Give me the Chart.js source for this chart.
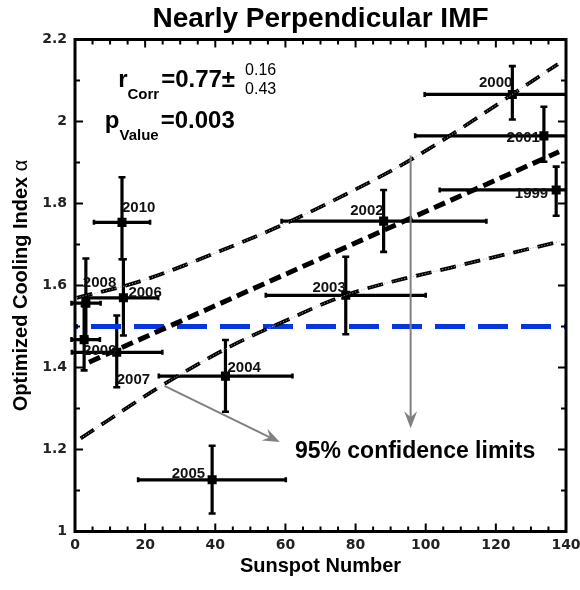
<!DOCTYPE html>
<html><head><meta charset="utf-8">
<script src="https://cdn.jsdelivr.net/npm/chart.js@4.4.1/dist/chart.umd.min.js"></script>
<style>html,body{margin:0;padding:0;background:#fff;}canvas{display:block;}</style>
</head><body>
<canvas id="c" width="580" height="590"></canvas>
<script>
// ---- data ----
const years      = ['2000','2001','1999','2002','2003','2004','2005','2006','2007','2008','2009','2010'];
const sunspot    = [124.7, 133.7, 137.2, 88.0, 77.2, 42.9, 39.1, 13.8, 11.9, 3.1, 2.6, 13.4];
const alpha      = [2.066, 1.965, 1.833, 1.757, 1.576, 1.379, 1.126, 1.570, 1.437, 1.557, 1.468, 1.754];
const sunspotLow = [99.7, 97.0, 104.0, 58.9, 54.4, 23.9, 18.0, 2.3, -0.9, -1.0, -1.0, 5.4];
const sunspotHigh= [150, 170, 170, 117.3, 100.0, 62.0, 60.1, 23.7, 24.9, 7.3, 7.1, 21.4];
const alphaLow   = [2.005, 1.902, 1.770, 1.682, 1.481, 1.292, 1.044, 1.478, 1.352, 1.470, 1.393, 1.664];
const alphaHigh  = [2.135, 2.036, 1.890, 1.833, 1.670, 1.467, 1.209, 1.664, 1.527, 1.666, 1.550, 1.864];
const fitX   = [4, 138];
const fitY   = [1.413, 1.926];
const upperX = [0.5, 18.5, 46, 58.4, 75.5, 96.4, 137.7];
const upperY = [1.570, 1.610, 1.700, 1.745, 1.815, 1.910, 2.140];
const lowerX = [1.6, 24.2, 44.2, 58.4, 77.4, 107.8, 138.2];
const lowerY = [1.227, 1.353, 1.451, 1.508, 1.577, 1.645, 1.707];
const thresholdX = [0, 140];
const thresholdY = [1.5, 1.5];
const xTickValues = [0, 20, 40, 60, 80, 100, 120, 140];
const yTickValues = [1, 1.2, 1.4, 1.6, 1.8, 2, 2.2];
const rCorr = '0.77', rPlus = '0.16', rMinus = '0.43', pValue = '0.003';

// ---- styling (label placement: align, dx, dy in px) ----
const labelPlace = {
  '2000':['right',0,-7], '2001':['right',-4,6], '1999':['right',-8,8],
  '2002':['right',0,-6], '2003':['right',0,-3], '2004':['left',2,-4],
  '2005':['right',-7,-2], '2006':['left',5,-1], '2007':['left',0,32],
  '2008':['left',-3,-16], '2009':['left',-1,15], '2010':['left',0,-10]
};
const pts = (xs, ys) => xs.map((x, i) => ({x, y: ys[i]}));
const BOLD = 'Liberation Sans, Arial, sans-serif';

const errorBars = {
  id: 'errorBars',
  beforeDatasetsDraw(chart) {
    const {ctx, chartArea: a, scales: {x, y}} = chart;
    ctx.save();
    ctx.beginPath(); ctx.rect(a.left - 5, a.top - 5, a.right - a.left + 5, a.bottom - a.top + 10); ctx.clip();
    ctx.strokeStyle = '#000'; ctx.lineWidth = 3.2; ctx.lineCap = 'butt';
    for (let i = 0; i < years.length; i++) {
      const px = x.getPixelForValue(sunspot[i]), py = y.getPixelForValue(alpha[i]);
      const xl = x.getPixelForValue(sunspotLow[i]), xh = x.getPixelForValue(sunspotHigh[i]);
      const yl = y.getPixelForValue(alphaLow[i]), yh = y.getPixelForValue(alphaHigh[i]);
      ctx.lineWidth = 3.2;
      ctx.beginPath();
      ctx.moveTo(xl, py); ctx.lineTo(xh, py);
      ctx.moveTo(px, yl); ctx.lineTo(px, yh);
      ctx.stroke();
      ctx.lineWidth = 2.6;
      ctx.beginPath();
      ctx.moveTo(px - 3.5, yl); ctx.lineTo(px + 3.5, yl);
      ctx.moveTo(px - 3.5, yh); ctx.lineTo(px + 3.5, yh);
      ctx.moveTo(xl, py - 2.5); ctx.lineTo(xl, py + 2.5);
      ctx.moveTo(xh, py - 2.5); ctx.lineTo(xh, py + 2.5);
      ctx.stroke();
    }
    ctx.restore();
  }
};

function arrow(ctx, x1, y1, x2, y2) {
  const ang = Math.atan2(y2 - y1, x2 - x1), c = Math.cos(ang), s = Math.sin(ang);
  const L = 17, W = 6.5, N = 11;
  const nx = x2 - N * c, ny = y2 - N * s;
  ctx.beginPath(); ctx.moveTo(x1, y1); ctx.lineTo(nx, ny); ctx.stroke();
  ctx.beginPath(); ctx.moveTo(x2, y2);
  ctx.lineTo(x2 - L * c + W * s, y2 - L * s - W * c);
  ctx.lineTo(nx, ny);
  ctx.lineTo(x2 - L * c - W * s, y2 - L * s + W * c);
  ctx.closePath(); ctx.fill();
}

const decorations = {
  id: 'decorations',
  afterDraw(chart) {
    const {ctx, chartArea: a, scales: {x, y}} = chart;
    ctx.save();
    // frame
    ctx.strokeStyle = '#000'; ctx.lineWidth = 3;
    ctx.strokeRect(a.left, a.top, a.right - a.left, a.bottom - a.top);
    // inward ticks
    ctx.lineWidth = 2;
    ctx.beginPath();
    for (let v = 0; v <= 140; v += 5) {
      const p = x.getPixelForValue(v), len = v % 20 === 0 ? 8 : 5;
      ctx.moveTo(p, a.bottom); ctx.lineTo(p, a.bottom - len);
      ctx.moveTo(p, a.top); ctx.lineTo(p, a.top + len);
    }
    for (let k = 0; k <= 12; k++) {
      const p = y.getPixelForValue(1 + k * 0.1), len = k % 2 === 0 ? 8 : 5;
      ctx.moveTo(a.left, p); ctx.lineTo(a.left + len, p);
      ctx.moveTo(a.right, p); ctx.lineTo(a.right - len, p);
    }
    ctx.stroke();

    // year labels
    ctx.fillStyle = '#111'; ctx.font = 'bold 15px ' + BOLD; ctx.textBaseline = 'alphabetic';
    years.forEach((yr, i) => {
      const [al, dx, dy] = labelPlace[yr];
      ctx.textAlign = al;
      ctx.fillText(yr, x.getPixelForValue(sunspot[i]) + dx, y.getPixelForValue(alpha[i]) + dy);
    });

    // arrows
    ctx.strokeStyle = '#808080'; ctx.fillStyle = '#808080'; ctx.lineWidth = 2;
    arrow(ctx, x.getPixelForValue(25.5), y.getPixelForValue(1.355), x.getPixelForValue(58.4), y.getPixelForValue(1.218));
    arrow(ctx, x.getPixelForValue(95.7), y.getPixelForValue(1.917), x.getPixelForValue(95.7), y.getPixelForValue(1.252));

    ctx.fillStyle = '#000'; ctx.textAlign = 'left';
    ctx.font = 'bold 23px ' + BOLD;
    ctx.fillText('95% confidence limits', x.getPixelForValue(62.7), y.getPixelForValue(1.179));

    // statistics annotation
    let cx = x.getPixelForValue(12.3); const b1 = y.getPixelForValue(2.084);
    ctx.font = 'bold 24px ' + BOLD; ctx.fillText('r', cx, b1); cx += ctx.measureText('r').width;
    ctx.font = 'bold 15px ' + BOLD; ctx.fillText('Corr', cx, b1 + 12); cx += ctx.measureText('Corr').width + 2;
    ctx.font = 'bold 24px ' + BOLD; const t1 = '=' + rCorr + '\u00b1'; ctx.fillText(t1, cx, b1); cx += ctx.measureText(t1).width + 10;
    ctx.font = '16px ' + BOLD; ctx.fillText(rPlus, cx, b1 - 12); ctx.fillText(rMinus, cx, b1 + 7);
    cx = x.getPixelForValue(8.5); const b2 = y.getPixelForValue(1.984);
    ctx.font = 'bold 24px ' + BOLD; ctx.fillText('p', cx, b2); cx += ctx.measureText('p').width;
    ctx.font = 'bold 15px ' + BOLD; ctx.fillText('Value', cx, b2 + 12); cx += ctx.measureText('Value').width + 2;
    ctx.font = 'bold 24px ' + BOLD; ctx.fillText('=' + pValue, cx, b2);

    // y axis title
    ctx.save();
    ctx.translate(27, (a.top + a.bottom) / 2); ctx.rotate(-Math.PI / 2);
    const main = 'Optimized Cooling Index ';
    ctx.font = '20px ' + BOLD; const wA = ctx.measureText('\u03b1').width;
    ctx.font = 'bold 20px ' + BOLD; const wM = ctx.measureText(main).width;
    const start = -(wM + wA) / 2;
    ctx.textAlign = 'left'; ctx.fillText(main, start, 0);
    ctx.font = '20px ' + BOLD; ctx.fillText('\u03b1', start + wM, 0);
    ctx.restore();
    ctx.restore();
  }
};

const longDash = {borderColor: '#000', borderWidth: 3.8, borderDash: [16, 9], pointRadius: 0, showLine: true, fill: false, cubicInterpolationMode: 'monotone'};
const thinLink = {borderColor: '#b0b0b0', borderWidth: 1, borderDash: [1, 2], pointRadius: 0, showLine: true, fill: false, cubicInterpolationMode: 'monotone'};

new Chart(document.getElementById('c'), {
  type: 'scatter',
  data: {
    datasets: [
      Object.assign({label: 'upper link', data: pts(upperX, upperY)}, thinLink),
      Object.assign({label: 'lower link', data: pts(lowerX, lowerY)}, thinLink),
      Object.assign({label: 'upper 95%', data: pts(upperX, upperY)}, longDash),
      Object.assign({label: 'lower 95%', data: pts(lowerX, lowerY)}, longDash),
      {label: 'fit', data: pts(fitX, fitY), showLine: true, borderColor: '#000', borderWidth: 5, borderDash: [12, 6], pointRadius: 0, fill: false},
      {label: 'threshold', data: pts(thresholdX, thresholdY), showLine: true, borderColor: '#0536e0', borderWidth: 5, borderDash: [30, 13], borderDashOffset: 27, pointRadius: 0, fill: false},
      {label: 'alpha', data: pts(sunspot, alpha), pointStyle: 'rect', pointRadius: 6.4, backgroundColor: '#000', borderWidth: 0, showLine: false}
    ]
  },
  options: {
    responsive: false, animation: false, events: [],
    layout: {padding: {left: 0, right: 14, top: 0, bottom: 0}},
    plugins: {
      legend: {display: false}, tooltip: {enabled: false},
      title: {display: true, fullSize: false, text: 'Nearly Perpendicular IMF', color: '#000',
        font: {family: BOLD, weight: 'bold', size: 28, lineHeight: 1}, padding: {top: 5, bottom: 6.5}}
    },
    scales: {
      x: {
        type: 'linear', min: 0, max: 140,
        afterBuildTicks: s => { s.ticks = xTickValues.map(v => ({value: v})); },
        afterFit: s => { s.height = 58.5; s.paddingLeft = 0; s.paddingRight = 0; },
        grid: {display: false, drawTicks: false}, border: {display: false},
        ticks: {color: '#222', padding: 5, font: {family: 'DejaVu Sans', weight: 'bold', size: 14}, maxRotation: 0},
        title: {display: true, text: 'Sunspot Number', color: '#000', font: {family: BOLD, weight: 'bold', size: 20}, padding: {top: 0, bottom: 12}}
      },
      y: {
        type: 'linear', min: 1, max: 2.2,
        afterBuildTicks: s => { s.ticks = yTickValues.map(v => ({value: v})); },
        afterFit: s => { s.width = 75; s.paddingTop = 0; s.paddingBottom = 0; },
        grid: {display: false, drawTicks: false}, border: {display: false},
        ticks: {color: '#222', padding: 8, font: {family: 'DejaVu Sans', weight: 'bold', size: 14},
          callback: v => String(Number(v.toFixed(1)))}
      }
    }
  },
  plugins: [errorBars, decorations]
});
</script>
</body></html>
